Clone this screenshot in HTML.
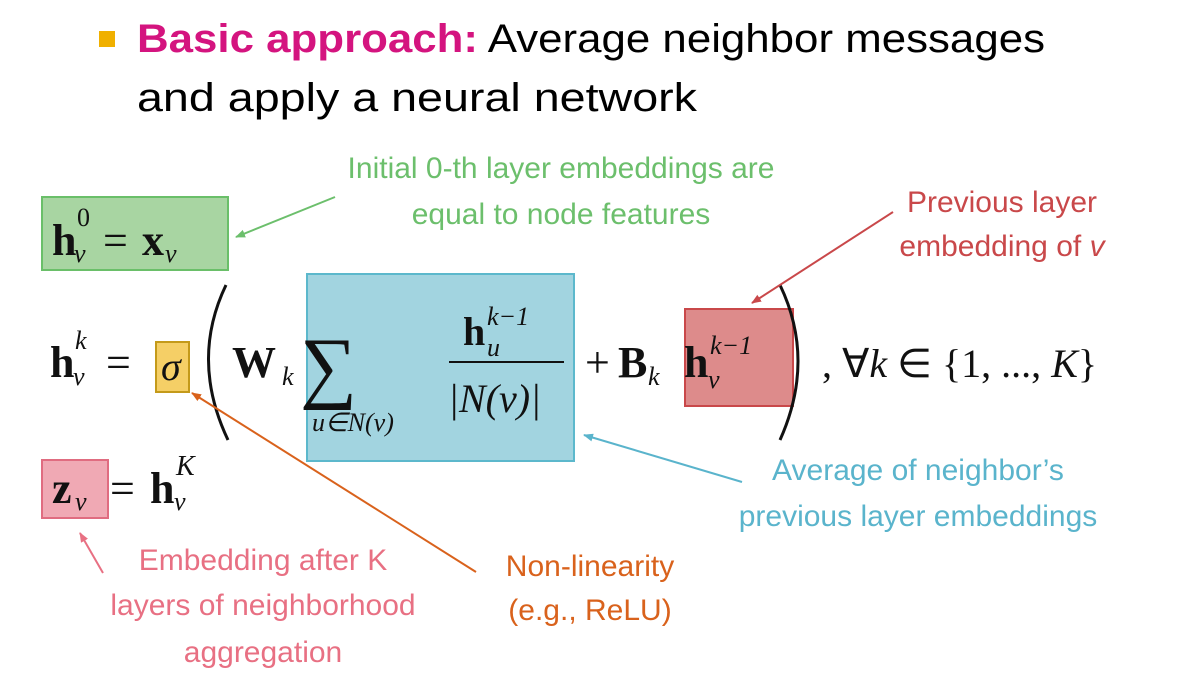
<!DOCTYPE html>
<html><head><meta charset="utf-8"><style>
html,body{margin:0;padding:0;background:#fff;}
svg{display:block}
.t{font-family:"Liberation Sans",sans-serif;}
.m{font-family:"Liberation Serif",serif;}
</style></head><body>
<svg width="1181" height="676" viewBox="0 0 1181 676" xmlns="http://www.w3.org/2000/svg">
<defs>
<marker id="ag" markerWidth="10" markerHeight="10" refX="9" refY="5" orient="auto" markerUnits="userSpaceOnUse"><path d="M0,1 L10,5 L0,9 z" fill="#6cbf6c"/></marker>
<marker id="ar" markerWidth="10" markerHeight="10" refX="9" refY="5" orient="auto" markerUnits="userSpaceOnUse"><path d="M0,1 L10,5 L0,9 z" fill="#c9484a"/></marker>
<marker id="ab" markerWidth="10" markerHeight="10" refX="9" refY="5" orient="auto" markerUnits="userSpaceOnUse"><path d="M0,1 L10,5 L0,9 z" fill="#5ab4cc"/></marker>
<marker id="ao" markerWidth="10" markerHeight="10" refX="9" refY="5" orient="auto" markerUnits="userSpaceOnUse"><path d="M0,1 L10,5 L0,9 z" fill="#d9621c"/></marker>
<marker id="ap" markerWidth="10" markerHeight="10" refX="9" refY="5" orient="auto" markerUnits="userSpaceOnUse"><path d="M0,1 L10,5 L0,9 z" fill="#e87083"/></marker>
</defs>
<!-- title -->
<rect x="99" y="31" width="16" height="16" fill="#f0b000"/>
<text class="t" x="137" y="52" font-size="40" textLength="908" lengthAdjust="spacingAndGlyphs"><tspan fill="#d4147f" font-weight="bold">Basic approach:</tspan><tspan fill="#000"> Average neighbor messages</tspan></text>
<text class="t" x="137" y="111" font-size="40" fill="#000" textLength="560" lengthAdjust="spacingAndGlyphs">and apply a neural network</text>

<!-- boxes -->
<rect x="42" y="197" width="186" height="73" fill="#a8d5a2" stroke="#6abf69" stroke-width="2"/>
<rect x="307" y="274" width="267" height="187" fill="#a2d4e0" stroke="#5cb8cc" stroke-width="2"/>
<rect x="685" y="309" width="108" height="97" fill="#dd8b8b" stroke="#c9484a" stroke-width="2"/>
<rect x="156" y="342" width="33" height="50" fill="#f5cf66" stroke="#c49a1a" stroke-width="2"/>
<rect x="42" y="460" width="66" height="58" fill="#f0a9b4" stroke="#e06c80" stroke-width="2"/>

<!-- math -->
<g class="m" fill="#111">
<text x="52" y="255" font-size="44" font-weight="bold">h</text>
<text x="77" y="226" font-size="26">0</text>
<text x="74" y="262" font-size="26" font-style="italic">v</text>
<text x="103" y="255" font-size="44">=</text>
<text x="142" y="255" font-size="44" font-weight="bold">x</text>
<text x="165" y="262" font-size="26" font-style="italic">v</text>

<text x="50" y="377" font-size="44" font-weight="bold">h</text>
<text x="75" y="349" font-size="26" font-style="italic">k</text>
<text x="73" y="385" font-size="26" font-style="italic">v</text>
<text x="106" y="377" font-size="44">=</text>
<text x="161" y="380" font-size="40" font-style="italic">σ</text>
<path d="M226,285 Q190,360 228,440" fill="none" stroke="#111" stroke-width="3"/>
<text x="232" y="377" font-size="44" font-weight="bold">W</text>
<text x="282" y="385" font-size="26" font-style="italic">k</text>
<text x="300" y="393" font-size="80">∑</text>
<text x="312" y="431" font-size="26" font-style="italic">u∈N(v)</text>
<text x="463" y="345" font-size="40" font-weight="bold">h</text>
<text x="487" y="325" font-size="26" font-style="italic">k−1</text>
<text x="487" y="356" font-size="26" font-style="italic">u</text>
<line x1="449" y1="362" x2="564" y2="362" stroke="#111" stroke-width="2"/>
<text x="448" y="412" font-size="40" font-style="italic">|N(v)|</text>
<text x="585" y="377" font-size="44">+</text>
<text x="618" y="377" font-size="44" font-weight="bold">B</text>
<text x="648" y="385" font-size="26" font-style="italic">k</text>
<text x="684" y="377" font-size="44" font-weight="bold">h</text>
<text x="710" y="354" font-size="26" font-style="italic">k−1</text>
<text x="708" y="388" font-size="26" font-style="italic">v</text>
<path d="M780,285 Q816,360 780,440" fill="none" stroke="#111" stroke-width="3"/>
<text x="822" y="377" font-size="40">,  ∀<tspan font-style="italic">k</tspan> ∈ {1, ..., <tspan font-style="italic">K</tspan>}</text>

<text x="52" y="503" font-size="44" font-weight="bold">z</text>
<text x="75" y="510" font-size="26" font-style="italic">v</text>
<text x="110" y="503" font-size="44">=</text>
<text x="150" y="503" font-size="44" font-weight="bold">h</text>
<text x="176" y="475" font-size="28" font-style="italic">K</text>
<text x="174" y="510" font-size="26" font-style="italic">v</text>
</g>

<!-- annotations -->
<g class="t" font-size="30" text-anchor="middle">
<text x="561" y="178" fill="#6cbf6c">Initial 0-th layer embeddings are</text>
<text x="561" y="224" fill="#6cbf6c">equal to node features</text>
<text x="1002" y="212" fill="#c9484a">Previous layer</text>
<text x="1002" y="256" fill="#c9484a">embedding of <tspan font-style="italic">v</tspan></text>
<text x="918" y="480" fill="#5ab4cc">Average of neighbor’s</text>
<text x="918" y="526" fill="#5ab4cc">previous layer embeddings</text>
<text x="263" y="570" fill="#e87083">Embedding after K</text>
<text x="263" y="615" fill="#e87083">layers of neighborhood</text>
<text x="263" y="662" fill="#e87083">aggregation</text>
<text x="590" y="576" fill="#d9621c">Non-linearity</text>
<text x="590" y="620" fill="#d9621c">(e.g., ReLU)</text>
</g>
<g stroke-width="2" fill="none">
<line x1="335" y1="197" x2="236" y2="237" stroke="#6cbf6c" marker-end="url(#ag)"/>
<line x1="893" y1="212" x2="752" y2="303" stroke="#c9484a" marker-end="url(#ar)"/>
<line x1="742" y1="482" x2="584" y2="435" stroke="#5ab4cc" marker-end="url(#ab)"/>
<line x1="476" y1="572" x2="192" y2="393" stroke="#d9621c" marker-end="url(#ao)"/>
<line x1="103" y1="573" x2="80" y2="533" stroke="#e87083" marker-end="url(#ap)"/>
</g>
</svg>
</body></html>
